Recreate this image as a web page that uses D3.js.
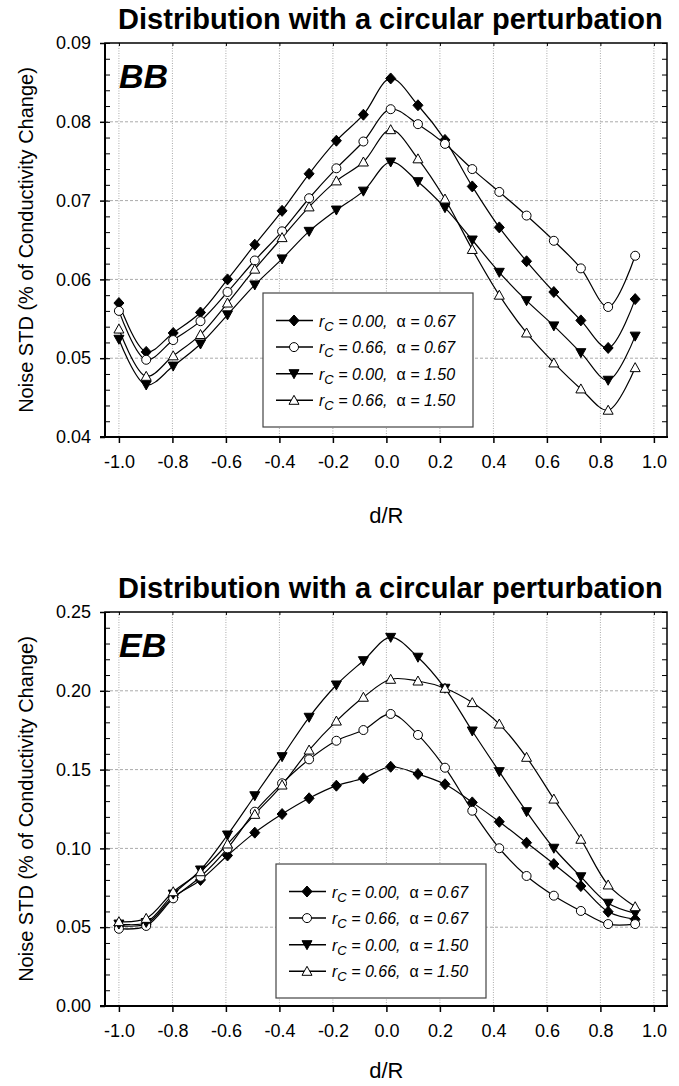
<!DOCTYPE html>
<html>
<head>
<meta charset="utf-8">
<script src="https://cdn.jsdelivr.net/npm/d3@7"></script>
<style>
  body { margin: 0; background: #fff; }
  text { font-family: "Liberation Sans", Arial, Helvetica, sans-serif; }
</style>
</head>
<body>
<svg id="chart" width="679" height="1086"></svg>
<script>
// d/R of the sample points (shared by both panels)
var dR = [-1.0, -0.898, -0.797, -0.695, -0.594, -0.492, -0.390, -0.289, -0.187, -0.086,
          0.016, 0.118, 0.219, 0.321, 0.422, 0.524, 0.626, 0.727, 0.829, 0.930];

// BB panel
var bbRc0A067 = [0.0570, 0.0508, 0.0532, 0.0558, 0.0600, 0.0644, 0.0687, 0.0734, 0.0776, 0.0809,
                 0.0855, 0.0821, 0.0777, 0.0718, 0.0666, 0.0623, 0.0584, 0.0548, 0.0513, 0.0575];
var bbRc66A067 = [0.0560, 0.0498, 0.0523, 0.0547, 0.0584, 0.0624, 0.0661, 0.0703, 0.0741, 0.0775,
                  0.0816, 0.0797, 0.0772, 0.0740, 0.0711, 0.0681, 0.0649, 0.0614, 0.0565, 0.0630];
var bbRc0A150 = [0.0524, 0.0466, 0.0490, 0.0518, 0.0555, 0.0593, 0.0626, 0.0661, 0.0688, 0.0712,
                 0.0749, 0.0724, 0.0691, 0.0650, 0.0609, 0.0573, 0.0541, 0.0507, 0.0472, 0.0528];
var bbRc66A150 = [0.0537, 0.0477, 0.0503, 0.0530, 0.0570, 0.0613, 0.0653, 0.0692, 0.0725, 0.0749,
                  0.0790, 0.0753, 0.0702, 0.0638, 0.0580, 0.0532, 0.0494, 0.0461, 0.0434, 0.0488];

// EB panel
var ebRc0A067 = [0.0510, 0.0520, 0.0690, 0.0800, 0.0955, 0.1100, 0.1218, 0.1318, 0.1398, 0.1445,
                 0.1518, 0.1472, 0.1407, 0.1292, 0.1169, 0.1036, 0.0901, 0.0761, 0.0598, 0.0550];
var ebRc66A067 = [0.0490, 0.0508, 0.0683, 0.0820, 0.1000, 0.1233, 0.1413, 0.1565, 0.1683, 0.1751,
                  0.1853, 0.1720, 0.1512, 0.1239, 0.1001, 0.0825, 0.0700, 0.0603, 0.0520, 0.0520];
var ebRc0A150 = [0.0520, 0.0530, 0.0710, 0.0863, 0.1085, 0.1334, 0.1582, 0.1832, 0.2037, 0.2191,
                 0.2339, 0.2213, 0.2016, 0.1745, 0.1487, 0.1233, 0.1001, 0.0820, 0.0652, 0.0588];
var ebRc66A150 = [0.0535, 0.0556, 0.0725, 0.0852, 0.1028, 0.1216, 0.1402, 0.1624, 0.1808, 0.1959,
                  0.2073, 0.2062, 0.2016, 0.1925, 0.1789, 0.1578, 0.1313, 0.1058, 0.0768, 0.0630];

var xTicks = [-1.0, -0.8, -0.6, -0.4, -0.2, 0.0, 0.2, 0.4, 0.6, 0.8, 1.0];
var bbTicks = [0.04, 0.05, 0.06, 0.07, 0.08, 0.09];
var ebTicks = [0.00, 0.05, 0.10, 0.15, 0.20, 0.25];

var legendRc = ["0.00", "0.66", "0.00", "0.66"];
var legendAlpha = ["0.67", "0.67", "1.50", "1.50"];
var markers = ["diamond", "circle", "triDown", "triUp"];

var titleText = "Distribution with a circular perturbation";
var yLabel = "Noise STD (% of Conductivity Change)";
var xLabel = "d/R";

var svg = d3.select("#chart");

// marker shapes
function markerPath(type) {
  if (type == "diamond") return "M0,-5.5L5,0L0,5.5L-5,0Z";
  if (type == "triDown") return "M-5,-4L5,-4L0,5Z";
  if (type == "triUp") return "M-5,4L5,4L0,-5Z";
  return null;
}
function drawMarker(sel, type, cx, cy) {
  if (type == "circle") {
    sel.append("circle").attr("cx", cx).attr("cy", cy).attr("r", 4.5)
      .attr("fill", "#fff").attr("stroke", "#000").attr("stroke-width", 1);
  } else {
    sel.append("path").attr("d", markerPath(type))
      .attr("transform", "translate(" + cx + "," + cy + ")")
      .attr("fill", type == "triUp" ? "#fff" : "#000")
      .attr("stroke", "#000").attr("stroke-width", 1);
  }
}

function drawPanel(top, tag, yDomain, yTicks, series, legendLeft, legendTop, xLabelGap) {
  var left = 105, right = 667, bottom = top + 394;
  var x = d3.scaleLinear().domain([-1.052, 1.049]).range([left, right]);
  var y = d3.scaleLinear().domain(yDomain).range([bottom, top]);
  var g = svg.append("g");

  // title
  g.append("text").attr("x", x(0) + 4).attr("y", top - 14)
    .attr("text-anchor", "middle").attr("font-size", 29).attr("font-weight", "bold")
    .text(titleText);

  // grid
  g.selectAll(".vg").data(xTicks).enter().append("line")
    .attr("x1", d => x(d)).attr("x2", d => x(d))
    .attr("y1", top).attr("y2", bottom)
    .attr("stroke", "#aaa").attr("stroke-width", 1).attr("stroke-dasharray", "1,1.5");
  g.selectAll(".hg").data(yTicks.slice(1, -1)).enter().append("line")
    .attr("x1", left).attr("x2", right)
    .attr("y1", d => y(d)).attr("y2", d => y(d))
    .attr("stroke", "#aaa").attr("stroke-width", 1).attr("stroke-dasharray", "3,2");

  // left axis: major ticks outward with labels, minor ticks inward
  var fmt = d3.format(".2f");
  var ya = g.append("g").attr("transform", "translate(" + left + ",0)")
    .call(d3.axisLeft(y).tickValues(yTicks).tickSize(5).tickPadding(9).tickFormat(fmt));
  ya.select(".domain").remove();
  ya.selectAll("text").attr("font-size", 18).attr("fill", "#000")
    .style("font-family", '"Liberation Sans", Arial, sans-serif');
  ya.selectAll("line").attr("stroke-width", 1.5);
  var ym = g.append("g").attr("transform", "translate(" + left + ",0)")
    .call(d3.axisLeft(y).ticks(25).tickSize(-5).tickFormat(""));
  ym.select(".domain").remove();
  var yr = g.append("g").attr("transform", "translate(" + right + ",0)")
    .call(d3.axisRight(y).ticks(25).tickSize(-5).tickFormat(""));
  yr.select(".domain").remove();

  // bottom axis
  var xa = g.append("g").attr("transform", "translate(0," + bottom + ")")
    .call(d3.axisBottom(x).tickValues(xTicks).tickSize(6).tickPadding(12)
      .tickFormat(d => d.toFixed(1)));
  xa.select(".domain").remove();
  xa.selectAll("text").attr("font-size", 18).attr("fill", "#000")
    .style("font-family", '"Liberation Sans", Arial, sans-serif');
  xa.selectAll("line").attr("stroke-width", 1.5);
  var xt = g.append("g").attr("transform", "translate(0," + top + ")")
    .call(d3.axisTop(x).tickValues(xTicks).tickSize(-3).tickFormat(""));
  xt.select(".domain").remove();

  // frame
  g.append("rect").attr("x", left).attr("y", top).attr("width", right - left).attr("height", bottom - top)
    .attr("fill", "none").attr("stroke", "#000").attr("stroke-width", 1.5);
  g.append("line").attr("x1", left).attr("x2", left).attr("y1", top).attr("y2", bottom + 1)
    .attr("stroke", "#000").attr("stroke-width", 2);
  g.append("line").attr("x1", left - 5).attr("x2", right + 1).attr("y1", bottom).attr("y2", bottom)
    .attr("stroke", "#000").attr("stroke-width", 2);

  // axis labels
  g.append("text").attr("transform", "translate(33," + (top + 197) + ") rotate(-90)")
    .attr("text-anchor", "middle").attr("font-size", 20).text(yLabel);
  g.append("text").attr("x", x(0)).attr("y", bottom + xLabelGap)
    .attr("text-anchor", "middle").attr("font-size", 22).text(xLabel);

  // panel tag
  g.append("text").attr("x", 119).attr("y", top + 45)
    .attr("font-size", 34).attr("font-weight", "bold").attr("font-style", "italic").text(tag);

  // series
  var line = d3.line().x((d, i) => x(dR[i])).y(d => y(d)).curve(d3.curveCatmullRom.alpha(0.5));
  series.forEach(function (vals) {
    g.append("path").attr("d", line(vals)).attr("fill", "none")
      .attr("stroke", "#000").attr("stroke-width", 1.2);
  });
  series.forEach(function (vals, k) {
    var mg = g.append("g");
    vals.forEach(function (v, i) { drawMarker(mg, markers[k], x(dR[i]), y(v)); });
  });

  // legend
  var lg = g.append("g").attr("transform", "translate(" + legendLeft + "," + legendTop + ")");
  lg.append("rect").attr("x", 0).attr("y", 0).attr("width", 210).attr("height", 134)
    .attr("fill", "#fff").attr("stroke", "#444").attr("stroke-width", 1.2);
  markers.forEach(function (m, i) {
    var cy = 27.5 + i * 26.6;
    lg.append("line").attr("x1", 13).attr("x2", 50).attr("y1", cy).attr("y2", cy)
      .attr("stroke", "#000").attr("stroke-width", 1.5);
    drawMarker(lg, m, 31, cy);
    var t = lg.append("text").attr("x", 56).attr("y", cy + 6)
      .attr("font-size", 16).attr("font-style", "italic").style("white-space", "pre");
    t.append("tspan").text("r");
    t.append("tspan").attr("font-size", 13).attr("dy", 4).text("C");
    t.append("tspan").attr("dy", -4).text(" = " + legendRc[i] + ",  ");
    t.append("tspan").attr("font-style", "normal").text("\u03b1");
    t.append("tspan").text(" = " + legendAlpha[i]);
  });
}

drawPanel(43, "BB", [0.04, 0.09], bbTicks, [bbRc0A067, bbRc66A067, bbRc0A150, bbRc66A150], 263, 293, 86);
drawPanel(612, "EB", [0.00, 0.25], ebTicks, [ebRc0A067, ebRc66A067, ebRc0A150, ebRc66A150], 276, 864, 72);
</script>
</body>
</html>
